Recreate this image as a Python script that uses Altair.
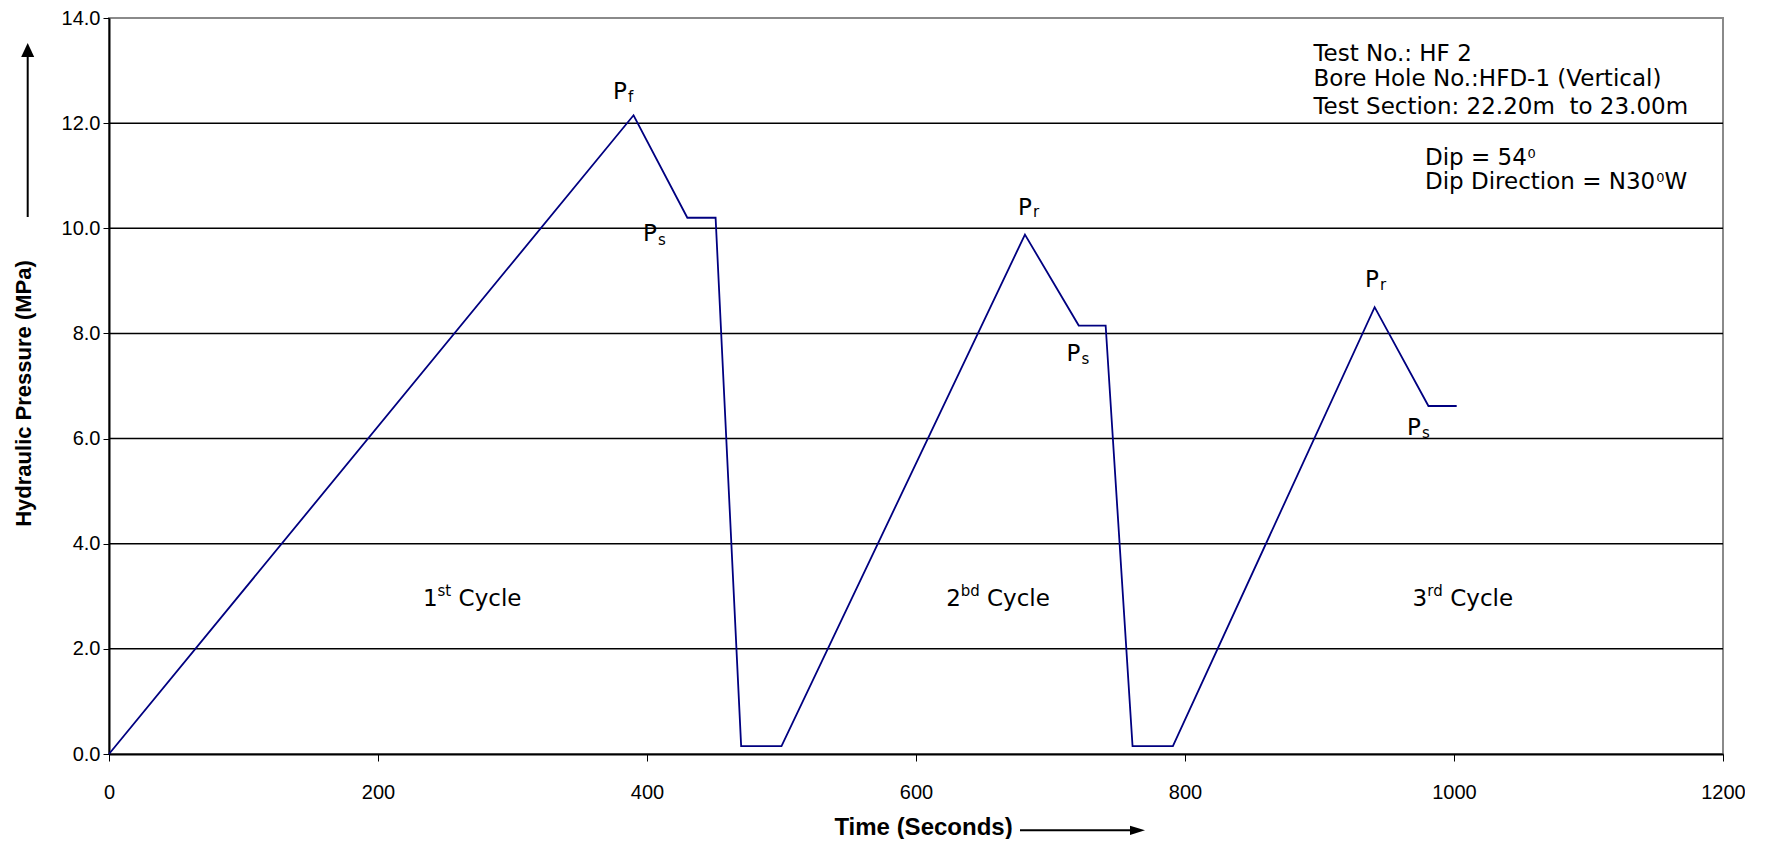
import altair as alt
import pandas as pd

# ---------------- data ----------------
time_s = [0, 390, 430, 451, 470, 500, 681, 721, 741, 761, 791, 941, 981, 1002]
pressure_mpa = [0.0, 12.15, 10.2, 10.2, 0.15, 0.15, 9.88, 8.15, 8.15, 0.15, 0.15, 8.5, 6.62, 6.62]

x_ticks = [0, 200, 400, 600, 800, 1000, 1200]
y_ticks = [0, 2, 4, 6, 8, 10, 12, 14]
grid_values = [2, 4, 6, 8, 10, 12]

# annotation labels: text, anchor (data units), font size
ann_text = ["P", "f", "P", "s", "P", "r", "P", "s", "P", "r", "P", "s",
            "1", "st", "Cycle", "2", "bd", "Cycle", "3", "rd", "Cycle",
            "Test No.: HF 2", "Bore Hole No.:HFD-1 (Vertical)",
            "Test Section: 22.20m\u00a0 to 23.00m",
            "Dip = 54", "0", "Dip Direction = N30", "0", "W"]
ann_x = [374.7, 385.9, 397.0, 408.2, 675.8, 687.0, 711.9, 723.1, 933.8, 945.0, 965.1, 976.3,
         233.5, 244.2, 259.9, 622.4, 633.2, 652.8, 969.2, 980.1, 997.2,
         895.5, 895.5, 895.5,
         978.4, 1054.6, 978.4, 1150.4, 1156.5]
ann_y = [12.46, 12.41, 9.75, 9.69, 10.26, 10.21, 7.47, 7.42, 8.88, 8.82, 6.07, 6.01,
         2.81, 3.0, 2.81, 2.81, 3.0, 2.81, 2.81, 3.0, 2.81,
         13.19, 12.70, 12.18,
         11.20, 11.33, 10.75, 10.88, 10.75]
ann_size = [23, 15, 23, 15, 23, 15, 23, 15, 23, 15, 23, 15,
            23, 15, 23, 23, 15, 23, 23, 15, 23,
            23, 23, 23,
            23, 13, 23, 13, 23]

FONT = "Liberation Sans"
TEXT_FONT = "DejaVu Sans"

df_line = pd.DataFrame({"t": time_s, "p": pressure_mpa})
df_grid = pd.DataFrame({"p": grid_values})
df_ann = pd.DataFrame({"text": ann_text, "t": ann_x, "p": ann_y, "s": ann_size})
one = pd.DataFrame({"a": [0]})

x_scale = alt.Scale(domain=[0, 1200], nice=False, zero=False)
y_scale = alt.Scale(domain=[0, 14], nice=False)

X_ENC = alt.X("t:Q", scale=x_scale,
              axis=alt.Axis(values=x_ticks, format="d", title="Time (Seconds)",
                            grid=False, domainColor="black", domainWidth=2,
                            tickColor="black", tickSize=7, tickWidth=1,
                            labelFont=FONT, labelFontSize=20, labelColor="black",
                            labelPadding=21, labelFlush=False,
                            titleFont=FONT, titleFontSize=24, titleFontWeight="bold",
                            titleColor="black", titleX=814, titleY=80,
                            titleAlign="center", titleBaseline="alphabetic"))
Y_ENC = alt.Y("p:Q", scale=y_scale,
              axis=alt.Axis(values=y_ticks, format=".1f", title="Hydraulic Pressure (MPa)",
                            grid=False, domainColor="black", domainWidth=2,
                            tickColor="black", tickSize=6, tickWidth=1,
                            labelFont=FONT, labelFontSize=20, labelColor="black",
                            labelPadding=3, labelFlush=False,
                            titleFont=FONT, titleFontSize=22, titleFontWeight="bold",
                            titleColor="black", titleAngle=270, titleX=-86, titleY=375,
                            titleAlign="center", titleBaseline="middle"))

grid = alt.Chart(df_grid).mark_rule(color="black", strokeWidth=1.5).encode(y=Y_ENC)

line = alt.Chart(df_line).mark_line(color="#000080", strokeWidth=1.8).encode(
    x=X_ENC, y=Y_ENC)

ann = alt.Chart(df_ann).mark_text(align="left", baseline="alphabetic", font=TEXT_FONT,
                                  color="black").encode(
    x=X_ENC, y=Y_ENC,
    text="text:N",
    size=alt.Size("s:Q", scale=None, legend=None),
)

# arrows beside the axis titles
y_arrow_line = alt.Chart(one).mark_rule(color="black", strokeWidth=2).encode(
    x=alt.value(-81.3), y=alt.value(32), y2=alt.value(199))
y_arrow_head = alt.Chart(one).mark_point(shape="M0,-1L0.93,1L-0.93,1Z", filled=True,
                                         size=196, color="black", opacity=1,
                                         strokeWidth=0).encode(
    x=alt.value(-81.3), y=alt.value(32))
x_arrow_line = alt.Chart(one).mark_rule(color="black", strokeWidth=2).encode(
    x=alt.value(911), x2=alt.value(1028), y=alt.value(812.3))
x_arrow_head = alt.Chart(one).mark_point(shape="M-1,-0.62L1,0L-1,0.62Z", filled=True,
                                         size=225, color="black", opacity=1,
                                         strokeWidth=0).encode(
    x=alt.value(1028.5), y=alt.value(812.3))

chart = alt.layer(grid, line, ann, y_arrow_line, y_arrow_head, x_arrow_line, x_arrow_head).properties(
    width=1614, height=736,
    padding={"left": 101, "top": 10, "right": 22, "bottom": 85},
    autosize=alt.AutoSizeParams(type="none"),
    background="white",
).configure_view(stroke="#8a8a8a", strokeWidth=2)

chart.save("out.html", embed_options={"renderer": "svg", "actions": False})
